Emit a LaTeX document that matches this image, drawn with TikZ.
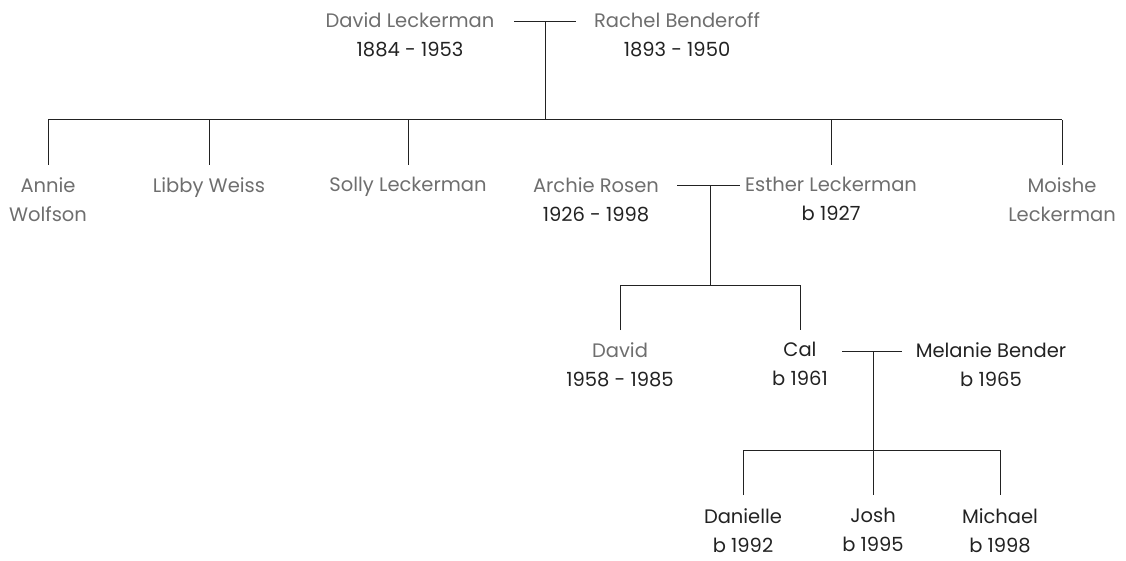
\documentclass[tikz,border=0pt]{standalone}
\usepackage{fontspec}
\setmainfont{Poppins}
\begin{document}
\begin{tikzpicture}[x=1pt,y=-1pt,
  person/.style={align=center,inner sep=0pt,anchor=north,font=\fontsize{19.5}{29}\selectfont,text=ink},
  link/.style={draw=ink,line width=1pt}]
\definecolor{grey}{HTML}{6E6E6E}
\definecolor{ink}{HTML}{222222}
\useasboundingbox (0,0) rectangle (1126,561);

% generation 1
\node[person] (dl) at (410,12) {\textcolor{grey}{David Leckerman}\\1884 - 1953};
\node[person] (rb) at (677,12) {\textcolor{grey}{Rachel Benderoff}\\1893 - 1950};
\coordinate (m1l) at (514,22);
\coordinate (m1r) at (576,22);
\coordinate (m1) at (545,22);
\coordinate (b1) at (545,120);
\draw[link] (m1l) -- (m1r);
\draw[link] (m1) -- (b1);
\draw[link] (48,120) -- (1062,120);

% generation 2
\node[person] (aw) at (48,177) {\textcolor{grey}{Annie}\\\textcolor{grey}{Wolfson}};
\node[person] (lw) at (209,177) {\textcolor{grey}{Libby Weiss}};
\node[person] (sl) at (408,177) {\textcolor{grey}{Solly Leckerman}};
\node[person] (ar) at (596,177) {\textcolor{grey}{Archie Rosen}\\1926 - 1998};
\node[person] (el) at (831,177) {\textcolor{grey}{Esther Leckerman}\\b 1927};
\node[person] (ml) at (1062,177) {\textcolor{grey}{Moishe}\\\textcolor{grey}{Leckerman}};
\foreach \n/\x in {aw/48,lw/209,sl/408,el/831,ml/1062}
  \draw[link] (\x,120) -- (\x,165);

\coordinate (m2l) at (677,186);
\coordinate (m2r) at (740,186);
\coordinate (m2) at (710,186);
\coordinate (b2) at (710,285);
\draw[link] (m2l) -- (m2r);
\draw[link] (m2) -- (b2);
\draw[link] (620,330) -- (620,285) -- (800,285) -- (800,330);

% generation 3
\node[person] (dv) at (620,342) {\textcolor{grey}{David}\\1958 - 1985};
\node[person] (cal) at (800,342) {Cal\\b 1961};
\node[person] (mb) at (991,342) {Melanie Bender\\b 1965};
\coordinate (m3l) at (842,351);
\coordinate (m3r) at (902,351);
\coordinate (m3) at (873,351);
\coordinate (b3) at (873,450);
\draw[link] (m3l) -- (m3r);
\draw[link] (m3) -- (b3);
\draw[link] (743,495) -- (743,450) -- (1000,450) -- (1000,495);
\draw[link] (b3) -- (873,495);

% generation 4
\node[person] (dn) at (743,508) {Danielle\\b 1992};
\node[person] (js) at (873,508) {Josh\\b 1995};
\node[person] (mc) at (1000,508) {Michael\\b 1998};
\end{tikzpicture}
\end{document}
